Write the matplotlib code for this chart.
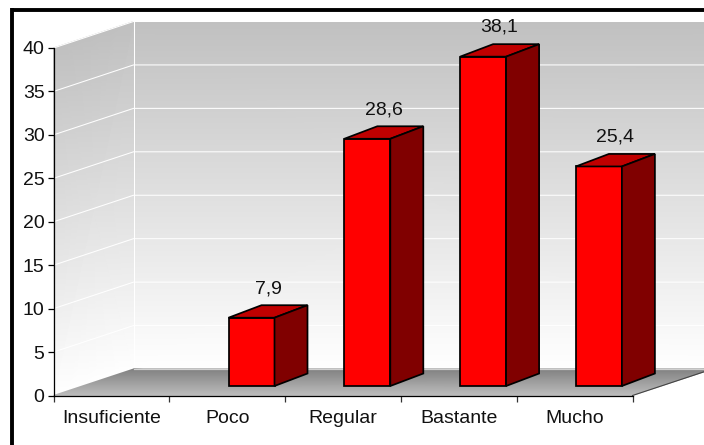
import matplotlib
matplotlib.use("Agg")
import matplotlib.pyplot as plt
from matplotlib.lines import Line2D
from matplotlib.patches import Polygon
import numpy as np

plt.rcParams['font.family'] = ['Liberation Sans', 'DejaVu Sans']

categories = ["Insuficiente", "Poco", "Regular", "Bastante", "Mucho"]
values = [0, 7.9, 28.6, 38.1, 25.4]
value_labels = ["", "7,9", "28,6", "38,1", "25,4"]
y_ticks = [0, 5, 10, 15, 20, 25, 30, 35, 40]

W, H = 704, 445
L, R, T, B = 53.5, 632.5, 48.0, 395.5   # plot box in pixels
fig = plt.figure(figsize=(W / 100, H / 100), dpi=100, facecolor="white")
ax = fig.add_axes([L / W, 1 - B / H, (R - L) / W, (B - T) / H])
ax.patch.set_visible(False)
ax.set_xlim(0, len(categories))
ax.set_ylim(0, 40)
ax.set_autoscale_on(False)

px_x = (R - L) / len(categories)
px_y = (B - T) / 40
DX, DY = 80 / px_x, 26.5 / px_y        # wall depth in data units
n = len(categories)


def shade(x, y, c, z=1):
    m = ax.pcolormesh(np.array(x), np.array(y), np.array(c), shading="gouraud",
                      cmap="gray", vmin=0, vmax=1, zorder=z)
    m.set_clip_on(False)


# back wall, side wall, floor
shade([[DX, n + DX], [DX, n + DX]], [[DY, DY], [40 + DY, 40 + DY]], [[1, 1], [.75, .75]])
shade([[0, DX], [0, DX]], [[0, DY], [40, 40 + DY]], [[1, 1], [.75, .75]])
shade([[0, n], [DX, n + DX]], [[0, 0], [DY, DY]], [[.74, .74], [.5, .5]], z=2)

# gridlines on both walls
for v in y_ticks:
    ax.plot([0, DX, n + DX], [v, v + DY, v + DY], color="white", lw=0.75,
            clip_on=False, zorder=1.5, solid_capstyle="butt")
ax.plot([DX, DX], [DY, 40 + DY], color="white", lw=0.75, clip_on=False, zorder=1.5)
ax.plot([DX, n + DX], [DY, DY], color="#d0d0d0", lw=0.9, clip_on=False, zorder=2.5)
ax.plot([n, n + DX], [0, DY], color="#444444", lw=0.8, clip_on=False, zorder=2.5)

# 3-D bars
BW = 46 / px_x
OFF = (251.5 - (L + 1.5 * px_x)) / px_x   # shift of the front face from the slot centre
BASE = 9.5 / px_y
BDX, BDY = 33 / px_x, 12.5 / px_y
for i, v in enumerate(values):
    if v <= 0:
        continue
    x0 = i + 0.5 + OFF - BW / 2
    x1 = x0 + BW
    y0, y1 = BASE, v * 0.995 + BASE
    style = dict(edgecolor="black", lw=1.25, joinstyle="miter", clip_on=False, zorder=4)
    ax.add_patch(Polygon([(x0, y0), (x1, y0), (x1, y1), (x0, y1)], facecolor="#FF0000", **style))
    ax.add_patch(Polygon([(x0, y1), (x1, y1), (x1 + BDX, y1 + BDY), (x0 + BDX, y1 + BDY)],
                         facecolor="#C00000", **style))
    ax.add_patch(Polygon([(x1, y0), (x1 + BDX, y0 + BDY), (x1 + BDX, y1 + BDY), (x1, y1)],
                         facecolor="#800000", **style))
    ax.annotate(value_labels[i], ((x0 + x1) / 2 + BDX / 2, y1 + BDY), xytext=(0, 12),
                textcoords="offset points", ha="center", va="center", fontsize=14,
                color="#111111", annotation_clip=False, zorder=5)

# axes
for s in ("top", "right"):
    ax.spines[s].set_visible(False)
for s in ("left", "bottom"):
    ax.spines[s].set_linewidth(0.9)
    ax.spines[s].set_zorder(3)
ax.set_yticks(y_ticks)
ax.set_xticks(range(n + 1))
ax.set_xticklabels([])
ax.set_xticks([i + 0.5 for i in range(n)], categories, minor=True)
ax.tick_params(axis="y", length=4, width=0.9, pad=2.5, labelsize=14, labelcolor="#111111")
ax.tick_params(axis="x", which="major", length=4, width=0.9, color="#333333")
ax.tick_params(axis="x", which="minor", length=0, pad=10.5, labelsize=14, labelcolor="#111111")

# heavy frame on the top and left
fig.add_artist(Line2D([12.4 / W, 12.4 / W], [0, 1 - 8.3 / H], color="black", lw=2.8,
                      solid_capstyle="butt"))
fig.add_artist(Line2D([10.5 / W, 1], [1 - 10.2 / H, 1 - 10.2 / H], color="black", lw=2.8,
                      solid_capstyle="butt"))

fig.savefig("out.png", dpi=100)
